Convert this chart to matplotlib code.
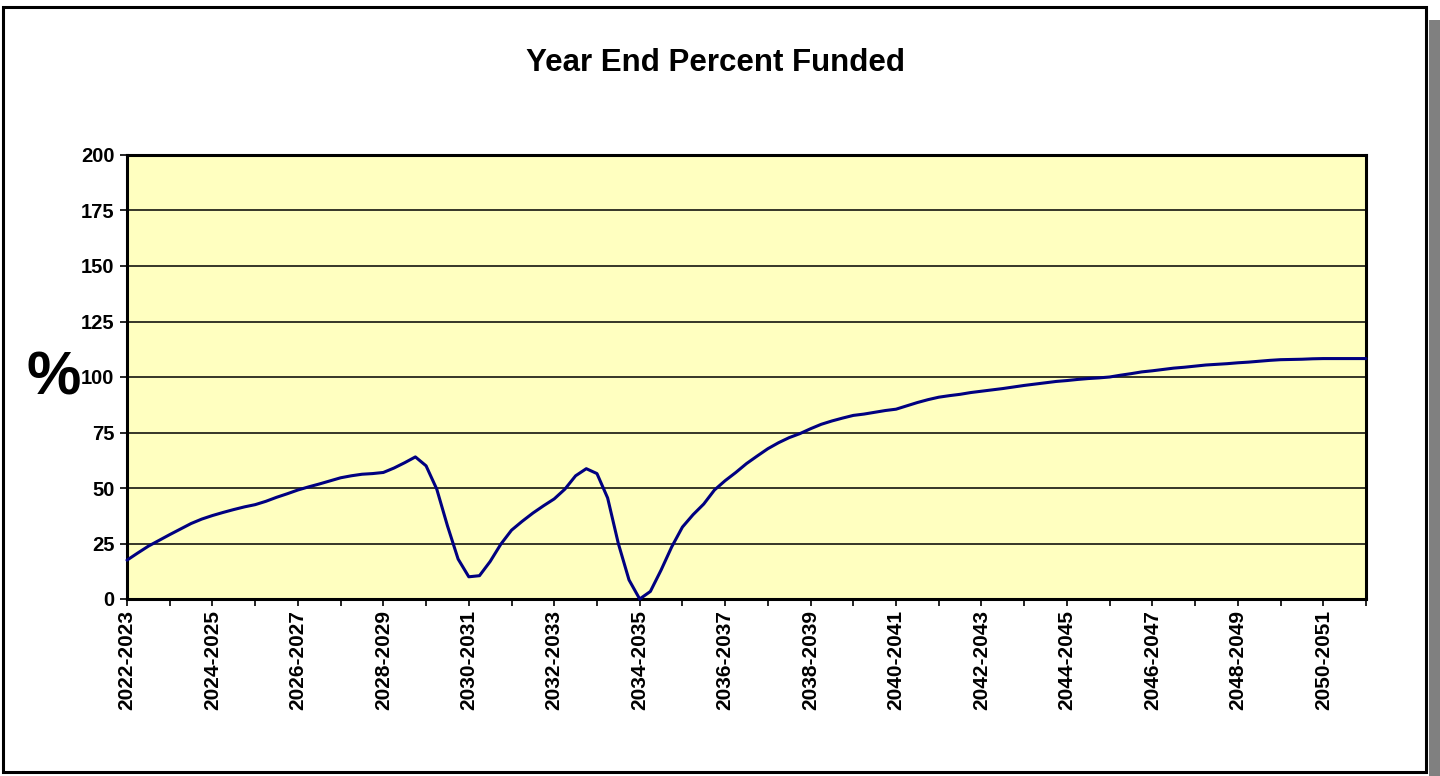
import numpy as np
import matplotlib
matplotlib.use("Agg")
import matplotlib.pyplot as plt
from matplotlib.patches import Rectangle

plt.rcParams['font.family'] = ['Liberation Sans', 'DejaVu Sans']

# Fiscal-year categories (one tick per year)
categories = [f"{2022 + i}-{2023 + i}" for i in range(30)]

# Percent funded (4 readings per year)
percent_funded = [
    17.5, 20.7, 23.8, 26.4, 29.0, 31.5, 34.0, 36.0, 37.6, 39.0,
    40.3, 41.5, 42.5, 44.0, 45.8, 47.4, 49.1, 50.5, 51.8, 53.2,
    54.6, 55.5, 56.2, 56.5, 57.0, 59.0, 61.4, 64.0, 60.0, 49.5,
    33.0, 18.0, 10.0, 10.5, 16.9, 24.7, 31.0, 35.0, 38.7, 42.0,
    45.1, 49.5, 55.5, 58.7, 56.5, 45.5, 25.0, 8.6, 0.0, 3.4,
    13.0, 23.5, 32.4, 38.0, 42.8, 49.1, 53.3, 57.0, 61.0, 64.4,
    67.7, 70.4, 72.7, 74.5, 76.7, 78.7, 80.2, 81.5, 82.7, 83.3,
    84.1, 84.9, 85.5, 87.0, 88.5, 89.8, 90.9, 91.6, 92.2, 93.0,
    93.6, 94.2, 94.8, 95.5, 96.2, 96.8, 97.4, 98.0, 98.4, 98.9,
    99.3, 99.6, 100.0, 100.8, 101.5, 102.3, 102.8, 103.4, 104.0, 104.4,
    104.9, 105.4, 105.7, 106.0, 106.4, 106.7, 107.1, 107.5, 107.8, 107.9,
    108.0, 108.2, 108.3, 108.3, 108.3, 108.3, 108.3,
]
y_ticks = [0, 25, 50, 75, 100, 125, 150, 175, 200]

W, H = 1440, 776
fig = plt.figure(figsize=(W / 100, H / 100), dpi=100)
fig.patch.set_facecolor('white')

# outer frame with shadow
fig.add_artist(Rectangle((1429 / W, 0), 11 / W, (H - 20) / H, transform=fig.transFigure,
                         facecolor='#808080', edgecolor='none', zorder=0))
fig.add_artist(Rectangle((3 / W, 4 / H), 1423 / W, 765 / H, transform=fig.transFigure,
                         facecolor='white', edgecolor='black', linewidth=2.2, zorder=1))

ax = fig.add_axes([127 / W, (H - 599) / H, 1239 / W, 444 / H], zorder=2)
ax.set_facecolor('#FFFFC0')

x = np.arange(len(percent_funded)) / 4.0
ax.plot(x, percent_funded, color='#000080', linewidth=2.2, solid_joinstyle='round',
        solid_capstyle='round', zorder=3, clip_on=False)

ax.set_xlim(0, len(categories) - 1)
ax.set_ylim(0, 200)
ax.set_yticks(y_ticks)
ax.set_yticklabels([str(v) for v in y_ticks], fontsize=14.5, fontweight='bold')
ax.set_xticks(range(len(categories)))
ax.set_xticklabels([c if i % 2 == 0 else '' for i, c in enumerate(categories)],
                   rotation=90, fontsize=15, fontweight='bold')
ax.tick_params(axis='both', direction='out', length=5, width=1.2, color='black')
ax.tick_params(axis='x', pad=3)
ax.tick_params(axis='y', pad=4)

ax.grid(axis='y', color='black', linewidth=1.1)
ax.set_axisbelow(True)
for s in ax.spines.values():
    s.set_color('black')
    s.set_linewidth(2.2)

fig.text(715 / W, 1 - 63 / H, 'Year End Percent Funded', ha='center', va='center',
         fontsize=22.5, fontweight='bold', zorder=5)
fig.text(54 / W, 1 - 379 / H, '%', ha='center', va='center',
         fontsize=44, fontweight='bold', zorder=5)

fig.savefig('out.png', dpi=100)
